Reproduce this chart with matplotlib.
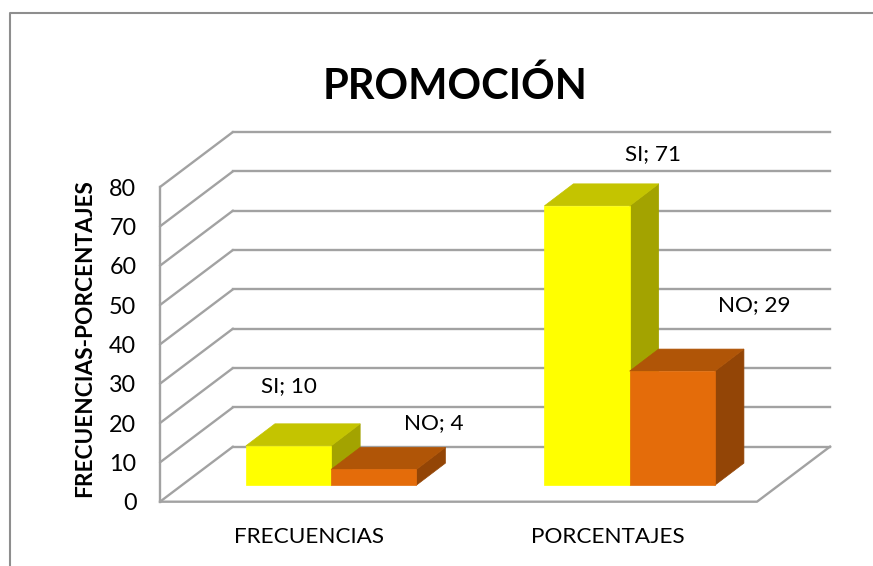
import matplotlib
matplotlib.use("Agg")
import matplotlib.pyplot as plt
from matplotlib.lines import Line2D
from matplotlib.patches import Polygon

plt.rcParams['font.family'] = ['Lato', 'Open Sans', 'DejaVu Sans']

categories = ["FRECUENCIAS", "PORCENTAJES"]
series_names = ["SI", "NO"]
si_values = [10, 71]
no_values = [4, 29]
y_ticks = [0, 10, 20, 30, 40, 50, 60, 70, 80]
title = "PROMOCIÓN"
y_label = "FRECUENCIAS-PORCENTAJES"

W, H = 873, 566
GRID = "#A2A2A2"
FRAME = "#8E8E8E"
FLOOR_DX, FLOOR_DY = 0.2446, 14.0     # wall depth, in data units
BAR_DX, BAR_DY = 0.0972, 5.6          # bar depth
BASE_FRAC = 0.30                      # bar front face position along floor depth
BAR_W = 0.2856

fig = plt.figure(figsize=(W / 100, H / 100), dpi=100, facecolor="white")
L, R, T, B = 160, 757, 187, 501.7
ax = fig.add_axes([L / W, 1 - B / H, (R - L) / W, (B - T) / H])
ax.set_xlim(0, 2)
ax.set_ylim(0, 80)
ax.patch.set_visible(False)
for s in ax.spines.values():
    s.set_visible(False)

ax.set_yticks(y_ticks)
ax.set_xticks([0.5, 1.5])
ax.set_xticklabels(categories)
ax.tick_params(axis="y", length=0, pad=17, labelsize=16.8, labelcolor="black")
ax.tick_params(axis="x", length=0, pad=18.5, labelsize=16.2, labelcolor="black")
ax.set_ylabel(y_label, fontsize=16.3, fontweight="bold", labelpad=0)
ax.yaxis.set_label_coords((95 - L) / (R - L), (B - 338) / (B - T))

lw = 1.7
for v in y_ticks:
    ax.plot([0, FLOOR_DX], [v, v + FLOOR_DY], color=GRID, lw=lw, clip_on=False, zorder=1, solid_capstyle="round")
    ax.plot([FLOOR_DX, 2 + FLOOR_DX], [v + FLOOR_DY, v + FLOOR_DY], color=GRID, lw=lw, clip_on=False, zorder=1)
ax.plot([0, 0], [0, 80], color=GRID, lw=lw, clip_on=False, zorder=1)
ax.plot([0, 2, 2 + FLOOR_DX], [0, 0, FLOOR_DY], color=GRID, lw=lw, clip_on=False, zorder=1)


def box(x0, v, front, top, side):
    bx = x0 + BASE_FRAC * FLOOR_DX
    by = BASE_FRAC * FLOOR_DY
    x1 = bx + BAR_W
    yt = by + v
    faces = [
        ([(x1, by), (x1 + BAR_DX, by + BAR_DY), (x1 + BAR_DX, yt + BAR_DY), (x1, yt)], side),
        ([(bx, yt), (bx + BAR_DX, yt + BAR_DY), (x1 + BAR_DX, yt + BAR_DY), (x1, yt)], top),
        ([(bx, by), (x1, by), (x1, yt), (bx, yt)], front),
    ]
    for pts, c in faces:
        ax.add_patch(Polygon(pts, closed=True, facecolor=c, edgecolor=c, lw=0.5, clip_on=False, zorder=3))
    return bx + BAR_W / 2, yt


label_offsets = {
    ("SI", 0): (0, 60), ("NO", 0): (60, 46),
    ("SI", 1): (66, 52), ("NO", 1): (82, 66),
}
styles = {
    "SI": ("#FFFF00", "#C4C400", "#A3A300"),
    "NO": ("#E46C0A", "#B05507", "#934506"),
}
for i, center in enumerate([0.5, 1.5]):
    for name, vals, x0 in [("SI", si_values, center - BAR_W), ("NO", no_values, center)]:
        cx, yt = box(x0, vals[i], *styles[name])
        ax.annotate(f"{name}; {vals[i]}", xy=(cx, yt), xytext=label_offsets[(name, i)],
                    textcoords="offset pixels", ha="center", va="center",
                    fontsize=16.2, color="black", zorder=5, annotation_clip=False)

fig.text(455 / W, 1 - 86 / H, title, ha="center", va="center", fontsize=30, fontweight="bold", color="black")

fig.add_artist(Line2D([10 / W, 10 / W, 1], [0, 1 - 12.5 / H, 1 - 12.5 / H], color=FRAME, lw=1.5))

fig.savefig("out.png", dpi=100)
